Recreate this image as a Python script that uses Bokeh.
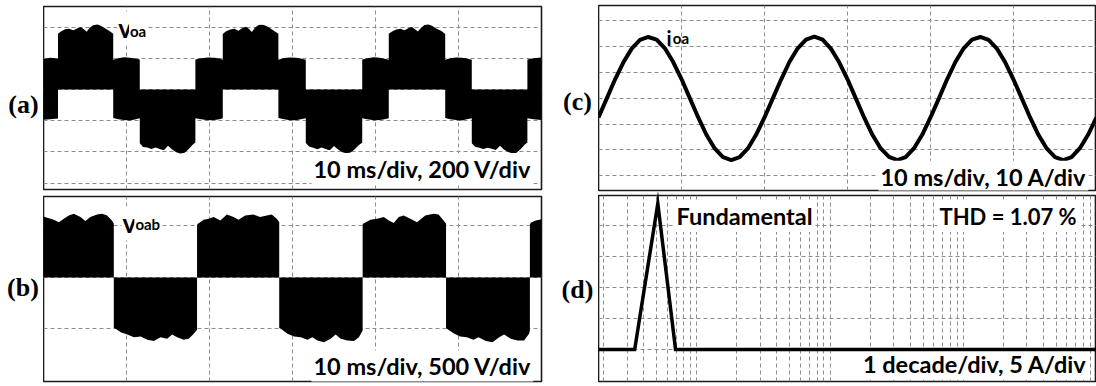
from bokeh.plotting import figure
from bokeh.models import Range1d, FixedTicker, Label
from bokeh.layouts import row, column
from bokeh.embed import file_html
from bokeh.resources import INLINE

# ---------------- data ----------------
# (a) v_oa : PWM band envelope, time in ms, volts (200 V/div)
t_a = [0.0, 0.8, 1.75,
       1.75, 2.1, 2.6, 3.1, 3.6, 4.1, 4.5, 4.9, 5.2, 5.6, 6.0, 6.5, 6.9, 7.4, 7.9, 8.4,
       8.4, 9.0, 9.7, 10.4, 11.0, 11.6,
       11.6, 12.0, 12.5, 13.0, 13.5, 14.0, 14.5, 15.0, 15.5, 16.0, 16.5, 17.0, 17.5, 18.0, 18.3,
       18.3, 19.0, 19.8, 20.6, 21.2, 21.6,
       21.6, 22.0, 22.5, 23.0, 23.5, 24.0, 24.4, 24.8, 25.1, 25.5, 25.9, 26.4, 26.8, 27.3, 27.8, 28.3,
       28.3, 29.0, 29.7, 30.4, 31.0, 31.6,
       31.6, 32.0, 32.5, 33.0, 33.5, 34.0, 34.5, 35.0, 35.5, 36.0, 36.5, 37.0, 37.5, 38.0, 38.4,
       38.4, 39.0, 39.8, 40.5, 41.1, 41.6,
       41.6, 42.0, 42.5, 43.0, 43.5, 44.0, 44.4, 44.8, 45.1, 45.5, 45.9, 46.4, 46.8, 47.3, 47.9, 48.4,
       48.4, 49.0, 49.7, 50.4, 51.0, 51.6,
       51.6, 52.0, 52.5, 53.0, 53.5, 54.0, 54.5, 55.0, 55.5, 56.0, 56.5, 57.0, 57.5, 58.0, 58.3,
       58.3, 59.0, 60.0]
top_a = [196, 203, 199,
         357, 372, 386, 389, 379, 393, 401, 384, 370, 398, 412, 416, 409, 393, 376, 358,
         190, 201, 206, 204, 199, 192,
         0, 0, 0, 0, 0, 0, 0, 0, 0, 0, 0, 0, 0, 0, 0,
         193, 200, 205, 203, 198, 191,
         356, 374, 385, 390, 377, 395, 402, 386, 368, 397, 413, 415, 408, 392, 375, 357,
         191, 202, 205, 204, 198, 190,
         0, 0, 0, 0, 0, 0, 0, 0, 0, 0, 0, 0, 0, 0, 0,
         192, 201, 206, 203, 197, 190,
         358, 372, 384, 389, 380, 394, 400, 385, 371, 396, 414, 417, 409, 391, 377, 356,
         191, 200, 205, 203, 198, 191,
         0, 0, 0, 0, 0, 0, 0, 0, 0, 0, 0, 0, 0, 0, 0,
         192, 201, 205]
bot_a = [-194, -190, -186,
         0, 0, 0, 0, 0, 0, 0, 0, 0, 0, 0, 0, 0, 0, 0, 0,
         -183, -190, -196, -198, -192, -185,
         -345, -368, -372, -382, -372, -381, -390, -360, -385, -402, -410, -406, -381, -352, -340,
         -184, -191, -197, -196, -190, -184,
         0, 0, 0, 0, 0, 0, 0, 0, 0, 0, 0, 0, 0, 0, 0, 0,
         -183, -190, -197, -197, -191, -184,
         -343, -366, -374, -383, -371, -382, -389, -362, -384, -403, -409, -404, -383, -355, -341,
         -184, -191, -197, -196, -190, -184,
         0, 0, 0, 0, 0, 0, 0, 0, 0, 0, 0, 0, 0, 0, 0, 0,
         -183, -190, -196, -198, -191, -185,
         -344, -367, -373, -381, -373, -380, -388, -361, -386, -401, -411, -405, -382, -353, -340,
         -184, -191, -196]

# (b) v_oab : PWM band envelope, ms, volts (500 V/div)
t_b = [0.0, 0.45, 1.25, 1.85, 2.45, 3.05, 3.65, 4.45, 5.05, 5.65, 6.45, 7.05, 7.65, 8.25, 8.47,
       8.47, 8.7, 9.3, 10.1, 10.9, 11.7, 12.5, 13.3, 14.1, 14.9, 15.5, 16.1, 16.9, 17.5, 18.1, 18.5,
       18.5, 18.6, 19.3, 19.9, 20.5, 21.3, 22.1, 22.9, 23.5, 24.3, 25.3, 26.1, 26.9, 27.5, 28.1, 28.4,
       28.4, 28.6, 29.4, 30.2, 31.0, 31.8, 32.4, 33.0, 33.8, 34.6, 35.2, 35.8, 36.6, 37.4, 38.0, 38.45,
       38.45, 38.5, 39.4, 40.2, 41.0, 41.6, 42.2, 42.8, 43.4, 44.2, 45.0, 46.0, 47.0, 47.6, 48.2, 48.5,
       48.5, 48.6, 49.4, 50.2, 51.0, 51.8, 52.4, 53.3, 54.1, 54.9, 55.5, 56.3, 57.1, 57.9, 58.5, 58.6,
       58.6, 58.7, 59.3, 60.0]
top_b = [592, 580, 560, 537, 570, 602, 618, 586, 547, 586, 612, 618, 602, 553, 521,
         0, 0, 0, 0, 0, 0, 0, 0, 0, 0, 0, 0, 0, 0, 0, 0,
         510, 521, 560, 570, 586, 553, 612, 586, 560, 602, 612, 586, 602, 612, 570, 537,
         0, 0, 0, 0, 0, 0, 0, 0, 0, 0, 0, 0, 0, 0, 0, 0,
         515, 521, 560, 570, 586, 553, 528, 586, 602, 570, 537, 602, 618, 612, 553, 521,
         0, 0, 0, 0, 0, 0, 0, 0, 0, 0, 0, 0, 0, 0, 0, 0,
         515, 530, 552, 565]
bot_b = [0, 0, 0, 0, 0, 0, 0, 0, 0, 0, 0, 0, 0, 0, 0,
         -490, -498, -531, -553, -580, -573, -605, -618, -580, -596, -553, -580, -605, -596, -547, -508,
         0, 0, 0, 0, 0, 0, 0, 0, 0, 0, 0, 0, 0, 0, 0, 0,
         -490, -498, -547, -573, -580, -605, -580, -612, -628, -596, -553, -596, -612, -618, -580, -515,
         0, 0, 0, 0, 0, 0, 0, 0, 0, 0, 0, 0, 0, 0, 0, 0,
         -490, -498, -541, -573, -580, -605, -580, -618, -628, -580, -553, -596, -612, -612, -547, -515,
         0, 0, 0, 0]

# (c) i_oa : ms, amperes (10 A/div)
t_c = [0, 1, 2, 3, 4, 5, 6, 7, 8, 9, 10, 11, 12, 13, 14, 15, 16, 17, 18, 19, 20,
       21, 22, 23, 24, 25, 26, 27, 28, 29, 30, 31, 32, 33, 34, 35, 36, 37, 38, 39, 40,
       41, 42, 43, 44, 45, 46, 47, 48, 49, 50, 51, 52, 53, 54, 55, 56, 57, 58, 59, 60]
i_c = [-7.4, 0.0, 7.4, 14.0, 19.3, 22.7, 23.8, 22.8, 19.4, 14.1, 7.5,
       0.1, -7.3, -14.1, -19.4, -22.8, -23.9, -22.8, -19.4, -14.0, -7.4,
       0.0, 7.3, 14.1, 19.4, 22.8, 23.9, 22.8, 19.3, 14.0, 7.4,
       0.0, -7.4, -14.1, -19.4, -22.7, -23.9, -22.8, -19.4, -14.1, -7.4,
       -0.1, 7.4, 14.1, 19.4, 22.8, 23.8, 22.7, 19.3, 14.0, 7.3,
       0.0, -7.4, -14.1, -19.4, -22.8, -23.9, -22.8, -19.3, -14.0, -7.4]

# (d) spectrum : Hz (log), amperes (5 A/div)
f_d = [18.3, 34.2, 51, 69.3, 100000]
a_d = [0, 0, 23.5, 0, 0]

# panel tags
tags = ["(a)", "(b)", "(c)", "(d)"]

# tick positions for the scope graticules
grid_t = [10, 20, 30, 40, 50]
grid_va = [-600, -400, -200, 0, 200, 400]
grid_vb = [-500, 0, 500]
grid_ic = [-30, -20, -10, 0, 10, 20, 30]
grid_ad = [0, 5, 10, 15, 20]
grid_f = [m * 10 ** k for k in range(1, 5) for m in range(1, 10)] + [100000]

# ---------------- helpers ----------------
ANN_FONT = "Lato"
ANN_SIZE = "23.5px"


def scope(width, height, bl, br, bt, bb, xr, yr, xt, yt, xtype="linear"):
    p = figure(width=width, height=height, x_range=Range1d(*xr), y_range=Range1d(*yr),
               x_axis_type=xtype, x_axis_location=None, y_axis_location=None,
               output_backend="svg", toolbar_location=None,
               min_border_left=bl, min_border_right=br, min_border_top=bt, min_border_bottom=bb)
    p.xgrid.ticker = FixedTicker(ticks=xt)
    p.ygrid.ticker = FixedTicker(ticks=yt)
    p.grid.grid_line_color = "#8c8c8c"
    p.grid.grid_line_dash = "4 3"
    p.grid.grid_line_width = 1
    p.outline_line_color = "#1a1a1a"
    p.outline_line_width = 1.6
    p.background_fill_color = "white"
    p.border_fill_color = "white"
    return p


def lab(p, x, y, text, size=ANN_SIZE, font=ANN_FONT, style="bold", align="left",
        baseline="middle", bg=None, pad=0):
    kw = {}
    if bg is not None:
        kw = dict(background_fill_color=bg, padding=pad)
    p.add_layout(Label(x=x, y=y, text=text, text_font=font, text_font_size=size,
                       text_font_style=style, text_align=align, text_baseline=baseline,
                       text_color="black", **kw))


def tag_fig(width, height, cx, cy, text):
    p = figure(width=width, height=height, x_range=Range1d(0, width), y_range=Range1d(0, height),
               x_axis_location=None, y_axis_location=None, output_backend="svg",
               toolbar_location=None, min_border=0)
    p.grid.visible = False
    p.outline_line_color = None
    p.background_fill_color = "white"
    p.border_fill_color = "white"
    lab(p, cx, cy, text, size="26px", font="Liberation Serif", align="center")
    return p


# ---------------- panel (a) ----------------
pa = scope(517, 192, 0, 19, 6, 3, (0, 60), (-641, 532), grid_t, grid_va)
pa.varea(x=t_a, y1=bot_a, y2=top_a, fill_color="black")
lab(pa, 8.9, 391, "v", size="26px", baseline="alphabetic", bg="white", pad=1)
lab(pa, 10.3, 378, "oa", size="15px", baseline="alphabetic", bg="white", pad=1)
lab(pa, 59.0, -510, "10 ms/div, 200 V/div", align="right", bg="white", pad=2)

# ---------------- panel (b) ----------------
pb = scope(517, 194, 0, 19, 4, 5, (0, 60), (-1010, 786), grid_t, grid_vb)
pb.varea(x=t_b, y1=bot_b, y2=top_b, fill_color="black")
lab(pb, 9.4, 524, "v", size="26px", baseline="alphabetic", bg="white", pad=1)
lab(pb, 10.95, 515, "oab", size="15px", baseline="alphabetic", bg="white", pad=1)
lab(pb, 59.0, -864, "10 ms/div, 500 V/div", align="right", bg="white", pad=2)

# ---------------- panel (c) ----------------
pc = scope(498, 192, 0, 0, 5, 2, (0, 60), (-35.7, 36.0), grid_t, grid_ic)
pc.line(t_c, i_c, line_color="black", line_width=4, line_join="round")
lab(pc, 8.2, 23.3, "i", size="20px", baseline="alphabetic")
lab(pc, 8.95, 23.3, "oa", size="15px", baseline="alphabetic")
lab(pc, 59.0, -30.4, "10 ms/div, 10 A/div", align="right", bg="white", pad=2)

# ---------------- panel (d) ----------------
pd = scope(498, 194, 0, 0, 3, 5, (18.3, 100000), (-5.16, 24.8), grid_f, grid_ad, xtype="log")
rd = pd.line(f_d, a_d, line_color="black", line_width=3.5, line_join="miter")
rd.level = "overlay"
lab(pd, 68, 21.5, "Fundamental", bg="white", pad=2)
lab(pd, 6400, 21.4, "THD = 1.07 %", size="22px", bg="white", pad=2)
lab(pd, 87000, -2.3, "1 decade/div, 5 A/div", align="right", bg="white", pad=2)

# ---------------- tag columns ----------------
ta = tag_fig(43, 192, 23, 88, tags[0])
tb = tag_fig(43, 194, 22.5, 99, tags[1])
tc = tag_fig(38, 192, 17, 91, tags[2])
td = tag_fig(38, 194, 17, 97, tags[3])

layout = row(column(ta, tb), column(pa, pb), column(tc, td), column(pc, pd))
open("out.html", "w").write(file_html(layout, INLINE))
